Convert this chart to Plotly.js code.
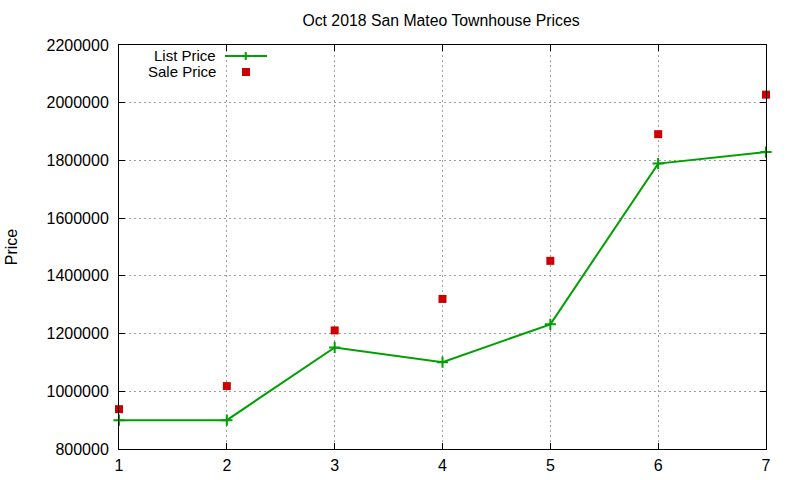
<!DOCTYPE html>
<html><head><meta charset="utf-8">
<script src="https://cdn.plot.ly/plotly-3.0.1.min.js"></script>
<style>html,body{margin:0;padding:0;background:#fff}#chart{width:800px;height:480px}</style>
</head><body><div id="chart"></div>
<script>
const months = [1, 2, 3, 4, 5, 6, 7];
const listPrice = [900000, 900000, 1152000, 1101000, 1232000, 1789000, 1829000];
const salePrice = [938000, 1018000, 1211000, 1320000, 1452000, 1891000, 2028000];
const yTicks = [800000, 1000000, 1200000, 1400000, 1600000, 1800000, 2000000, 2200000];
const seriesNames = ['List Price', 'Sale Price'];

const green = '#00a000', red = '#cc0000';
const font = {family: 'Liberation Sans, Arial, sans-serif', size: 16, color: '#000'};

const traces = [
  {x: months, y: listPrice, name: seriesNames[0], mode: 'lines+markers', type: 'scatter',
   line: {color: green, width: 2},
   marker: {symbol: 'cross-thin', size: 8, line: {color: green, width: 2}, color: green},
   showlegend: false, cliponaxis: false},
  {x: months, y: salePrice, name: seriesNames[1], mode: 'markers', type: 'scatter',
   marker: {symbol: 'square', size: 8, color: red},
   showlegend: false, cliponaxis: false}
];

const L = 119, R = 766, T = 45, B = 449;
function px(x){return (x - L) / (R - L);}
function py(y){return (B - y) / (B - T);}

const layout = {
  width: 800, height: 480,
  margin: {l: L, r: 800 - R, t: T, b: 480 - B, pad: 0},
  paper_bgcolor: '#fff', plot_bgcolor: '#fff',
  font: font,
  title: {text: 'Oct 2018 San Mateo Townhouse Prices', x: px(441), xref: 'paper', xanchor: 'center',
          y: 1 - 20/480, yanchor: 'middle', font: {family: font.family, size: 15.8, color: '#000'}},
  xaxis: {range: [1, 7], tickvals: months, ticktext: months.map(String), showline: true, linecolor: '#000', linewidth: 1,
          mirror: 'ticks', ticks: 'inside', ticklen: 6, tickcolor: '#000', zeroline: false,
          showgrid: true, gridcolor: '#a0a0a0', griddash: '2px,3px', gridwidth: 1, tickfont: font, ticklabelstandoff: 2},
  yaxis: {range: [800000, 2200000], tickvals: yTicks, ticktext: yTicks.map(String), showline: true, linecolor: '#000', linewidth: 1,
          mirror: 'ticks', ticks: 'inside', ticklen: 6, tickcolor: '#000', zeroline: false,
          showgrid: true, gridcolor: '#a0a0a0', griddash: '2px,3px', gridwidth: 1, tickfont: font, ticklabelstandoff: 6,
          title: {text: 'Price', font: font, standoff: 24}},
  showlegend: false,
  annotations: [
    {text: seriesNames[0], xref: 'paper', yref: 'paper', x: px(217), y: py(55), xanchor: 'right', yanchor: 'middle', showarrow: false, borderpad: 0, font: {family: font.family, size: 15, color: '#000'}},
    {text: seriesNames[1], xref: 'paper', yref: 'paper', x: px(217), y: py(72), xanchor: 'right', yanchor: 'middle', showarrow: false, borderpad: 0, font: {family: font.family, size: 15, color: '#000'}}
  ],
  shapes: [
    {type: 'line', xref: 'paper', yref: 'paper', x0: px(225), x1: px(267), y0: py(56), y1: py(56), line: {color: green, width: 2}},
    {type: 'line', xref: 'paper', yref: 'paper', x0: px(245.7), x1: px(245.7), y0: py(52), y1: py(60), line: {color: green, width: 2}},
    {type: 'rect', xref: 'paper', yref: 'paper', x0: px(242), x1: px(250), y0: py(68), y1: py(76), fillcolor: red, line: {width: 0}}
  ]
};
Plotly.newPlot('chart', traces, layout, {displayModeBar: false, staticPlot: true});
</script></body></html>
